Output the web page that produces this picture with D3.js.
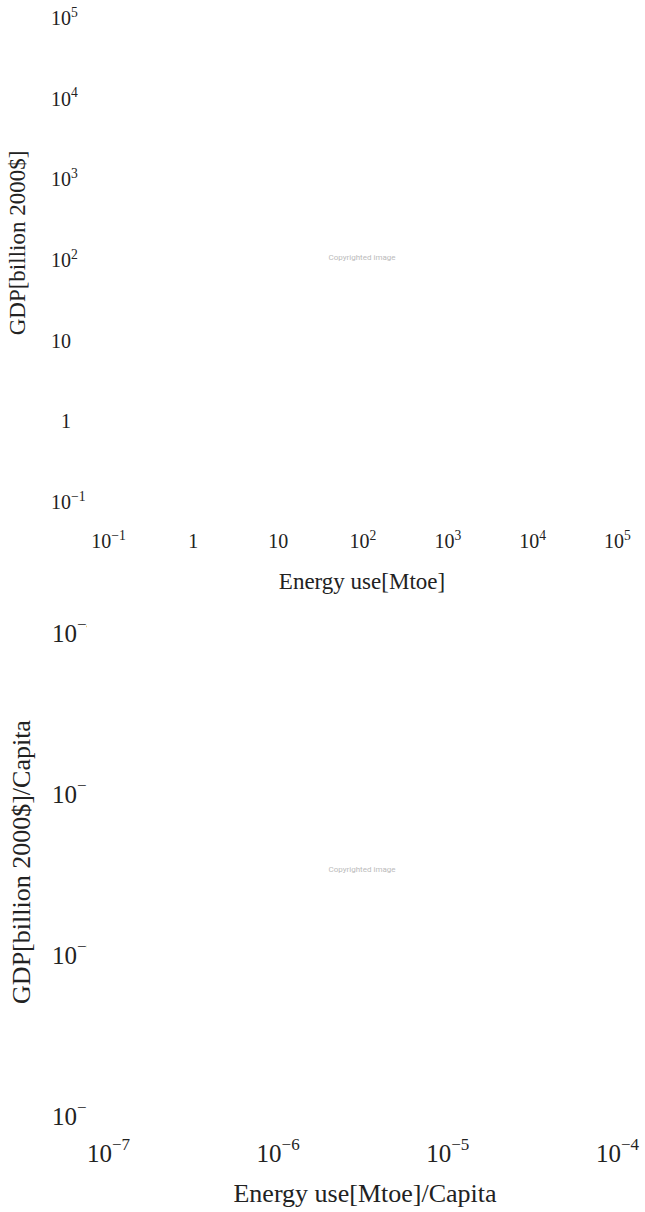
<!DOCTYPE html>
<html lang="en">
<head>
<meta charset="UTF-8">
<title>Energy use vs GDP</title>
<script src="https://cdnjs.cloudflare.com/ajax/libs/d3/7.8.4/d3.min.js"></script>
<style>
  body { margin: 0; background: #fff; }
  svg text { font-family: "Liberation Serif", "DejaVu Serif", serif; fill: #222; }
  svg text.mark { font-family: Roboto, "Noto Sans", sans-serif; fill: #bbb; }
</style>
</head>
<body>
<div id="chart"></div>
<script>
  // tick values (exponents of ten) for both panels
  const topXTicks = [-1, 0, 1, 2, 3, 4, 5];
  const topYTicks = [-1, 0, 1, 2, 3, 4, 5];
  const botXTicks = [-7, -6, -5, -4];
  const botYTicks = [-7, -6, -5, -4];

  const topXTitle = "Energy use[Mtoe]";
  const topYTitle = "GDP[billion 2000$]";
  const botXTitle = "Energy use[Mtoe]/Capita";
  const botYTitle = "GDP[billion 2000$]/Capita";
  const watermark = "Copyrighted image";

  const w = 645, h = 1212;
  const svg = d3.select("#chart").append("svg").attr("width", w).attr("height", h);

  // the lower panel's y labels are cut off just after the minus sign
  svg.append("defs").append("clipPath").attr("id", "ylabClip")
    .append("rect").attr("x", 0).attr("y", 560).attr("width", 87).attr("height", 600);

  // write 10^n with a superscript; 0 -> "1", 1 -> "10"
  function powLabel(sel, supSize, supRise) {
    sel.each(function (e) {
      const t = d3.select(this).text("");
      if (e === 0) { t.text("1"); return; }
      if (e === 1) { t.text("10"); return; }
      t.append("tspan").text("10");
      t.append("tspan").attr("dy", supRise).attr("font-size", supSize)
        .text(e < 0 ? "\u2212" + (-e) : e);
    });
  }

  function panel(o) {
    const x = d3.scaleLog().domain([Math.pow(10, o.xt[0]), Math.pow(10, o.xt[o.xt.length - 1])]).range(o.xr);
    const y = d3.scaleLog().domain([Math.pow(10, o.yt[0]), Math.pow(10, o.yt[o.yt.length - 1])]).range(o.yr);

    const xAxis = d3.axisBottom(x).tickValues(o.xt.map(e => Math.pow(10, e))).tickSize(0).tickPadding(0);
    const yAxis = d3.axisLeft(y).tickValues(o.yt.map(e => Math.pow(10, e))).tickSize(0).tickPadding(0);

    const gx = svg.append("g").attr("transform", "translate(0," + o.xAxisY + ")").call(xAxis);
    const holder = svg.append("g");
    if (o.clip) holder.attr("clip-path", "url(#ylabClip)");
    const gy = holder.append("g").attr("transform", "translate(" + o.yAxisX + ",0)").call(yAxis);

    [gx, gy].forEach(g => {
      g.select(".domain").remove();
      g.selectAll(".tick text").attr("font-size", o.tickSize)
        .attr("font-family", null).attr("fill", "#222")
        .datum(d => Math.round(Math.log10(d)));
      powLabel(g.selectAll(".tick text"), o.supSize, o.supRise);
    });

    // y labels: the "10" (or "1") ends at the axis x, the exponent hangs past it
    gy.selectAll(".tick text")
      .attr("text-anchor", "start")
      .attr("x", d => d === 0 ? -0.5 * o.tickSize : -o.tickSize);

    svg.append("text").attr("x", o.xTitle[0]).attr("y", o.xTitle[1])
      .attr("text-anchor", "middle").attr("font-size", o.titleSize).text(o.xLabel);
    svg.append("text")
      .attr("transform", "translate(" + o.yTitle[0] + "," + o.yTitle[1] + ") rotate(-90)")
      .attr("text-anchor", "middle").attr("font-size", o.titleSize).text(o.yLabel);

    svg.append("text").attr("class", "mark").attr("x", o.mark[0]).attr("y", o.mark[1])
      .attr("text-anchor", "middle").attr("font-size", 8).text(watermark);
  }

  panel({
    xt: topXTicks, yt: topYTicks, xr: [108, 617], yr: [502, 18],
    xAxisY: 534, yAxisX: 71, tickSize: 20, supSize: "0.68em", supRise: "-0.6em", titleSize: 23,
    xLabel: topXTitle, yLabel: topYTitle, xTitle: [362, 589], yTitle: [25, 243],
    mark: [362, 260]
  });

  panel({
    xt: botXTicks, yt: botYTicks, xr: [108, 617], yr: [1116, 633],
    xAxisY: 1144, yAxisX: 77, tickSize: 25, supSize: "0.68em", supRise: "-0.7em", titleSize: 26,
    xLabel: botXTitle, yLabel: botYTitle, xTitle: [365, 1202], yTitle: [30, 862],
    mark: [362, 872], clip: true
  });
</script>
</body>
</html>
